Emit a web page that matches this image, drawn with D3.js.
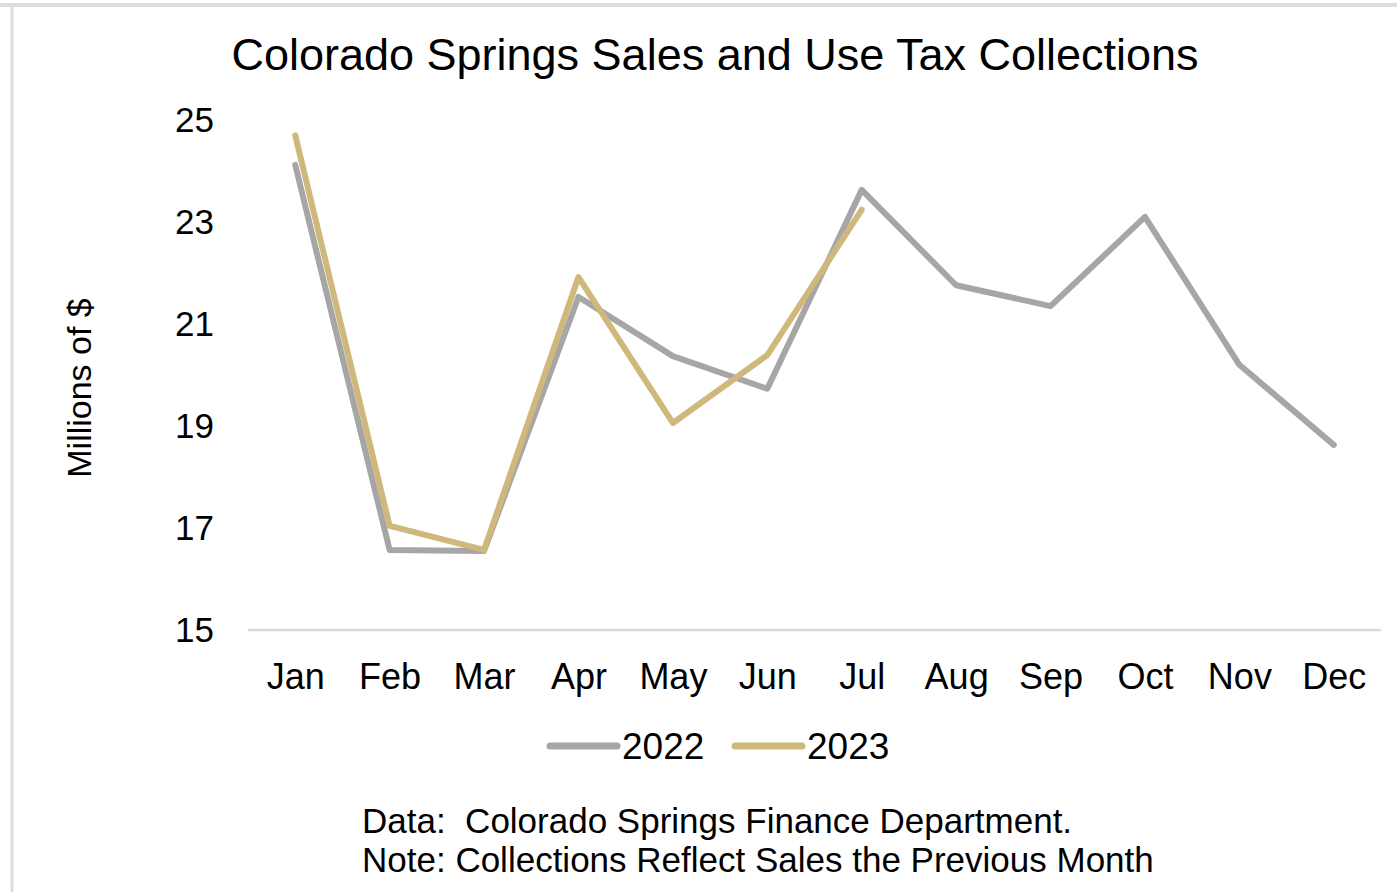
<!DOCTYPE html>
<html>
<head>
<meta charset="utf-8">
<script src="https://cdn.jsdelivr.net/npm/d3@7"></script>
<style>
  html, body { margin: 0; padding: 0; background: #fff; }
  svg { display: block; font-family: "Liberation Sans", Arial, sans-serif; }
</style>
</head>
<body>
<svg id="chart" width="1397" height="892"></svg>
<script>
// Monthly sales and use tax collections, millions of dollars
const months = ["Jan", "Feb", "Mar", "Apr", "May", "Jun", "Jul", "Aug", "Sep", "Oct", "Nov", "Dec"];
const values2022 = [24.12, 16.57, 16.55, 21.53, 20.37, 19.73, 23.63, 21.76, 21.35, 23.10, 20.20, 18.63];
const values2023 = [24.70, 17.04, 16.57, 21.92, 19.06, 20.39, 23.24];
const yTicks = [15, 17, 19, 21, 23, 25];
const seriesNames = ["2022", "2023"];
const seriesColors = ["#a5a6a5", "#cfb87c"];

const svg = d3.select("#chart");
const W = 1397, H = 892;

// outer frame (top and left edges)
svg.append("line").attr("x1", 0).attr("x2", W).attr("y1", 5).attr("y2", 5)
  .attr("stroke", "#dcdcdc").attr("stroke-width", 4);
svg.append("line").attr("x1", 12).attr("x2", 12).attr("y1", 5).attr("y2", H)
  .attr("stroke", "#dcdcdc").attr("stroke-width", 3);

const x = d3.scalePoint().domain(months).range([248, 1381]).padding(0.5);
const y = d3.scaleLinear().domain([15, 25]).range([630, 120]);

// title
svg.append("text")
  .attr("x", 715).attr("y", 70)
  .attr("text-anchor", "middle")
  .attr("font-size", 45)
  .attr("fill", "#000")
  .text("Colorado Springs Sales and Use Tax Collections");

// y axis labels (no axis line, baseline only)
const yAxis = d3.axisLeft(y).tickValues(yTicks).tickSize(0).tickPadding(0);
const gy = svg.append("g").attr("transform", "translate(214,0)").call(yAxis);
gy.select(".domain").remove();
gy.selectAll("text")
  .attr("font-size", 35)
  .attr("font-family", "Liberation Sans, Arial, sans-serif")
  .attr("fill", "#000");

// baseline
svg.append("line")
  .attr("x1", 248).attr("x2", 1381)
  .attr("y1", y(15)).attr("y2", y(15))
  .attr("stroke", "#d9d9d9").attr("stroke-width", 2.5);

// x axis labels
const xAxis = d3.axisBottom(x).tickSize(0).tickPadding(0);
const gx = svg.append("g").attr("transform", "translate(0,663)").call(xAxis);
gx.select(".domain").remove();
gx.selectAll("text")
  .attr("font-size", 36)
  .attr("font-family", "Liberation Sans, Arial, sans-serif")
  .attr("fill", "#000")
  .attr("dy", "0.71em");

// y axis title
svg.append("text")
  .attr("transform", "translate(91,388) rotate(-90)")
  .attr("text-anchor", "middle")
  .attr("font-size", 34)
  .attr("fill", "#000")
  .text("Millions of $");

// series lines
const line = d3.line()
  .x((d, i) => x(months[i]))
  .y(d => y(d));

[values2022, values2023].forEach((vals, k) => {
  svg.append("path")
    .datum(vals)
    .attr("d", line)
    .attr("fill", "none")
    .attr("stroke", seriesColors[k])
    .attr("stroke-width", 6)
    .attr("stroke-linejoin", "round")
    .attr("stroke-linecap", "round");
});

// legend
const legendX = [550, 735];
seriesNames.forEach((name, k) => {
  const g = svg.append("g").attr("transform", `translate(${legendX[k]},746)`);
  g.append("line")
    .attr("x1", 0).attr("x2", 67).attr("y1", 0).attr("y2", 0)
    .attr("stroke", seriesColors[k]).attr("stroke-width", 7)
    .attr("stroke-linecap", "round");
  g.append("text")
    .attr("x", 72).attr("y", 13)
    .attr("font-size", 37)
    .attr("fill", "#000")
    .text(name);
});

// source notes
const notes = ["Data:  Colorado Springs Finance Department.",
               "Note: Collections Reflect Sales the Previous Month"];
svg.append("g").selectAll("text")
  .data(notes)
  .join("text")
  .attr("x", 362)
  .attr("y", (d, i) => 833 + i * 39)
  .attr("font-size", 35)
  .attr("fill", "#000")
  .attr("xml:space", "preserve")
  .style("white-space", "pre")
  .text(d => d);
</script>
</body>
</html>
